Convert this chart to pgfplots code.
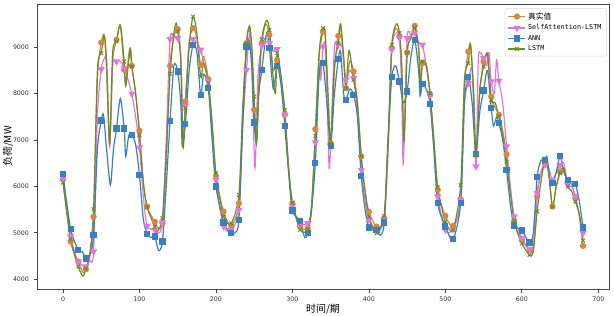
\documentclass[border=0pt]{standalone}
\usepackage{fontspec}
\setmainfont{DejaVu Sans}
\newfontfamily\cjk{Noto Sans CJK SC}
\newfontfamily\mono{DejaVu Sans Mono}
\usepackage{pgfplots}
\usepackage{pgfplotstable}
\pgfplotsset{compat=1.18}
\definecolor{ctrue}{HTML}{D4873F}
\definecolor{csa}{HTML}{E276E0}
\definecolor{cann}{HTML}{3A7FBF}
\definecolor{clstm}{HTML}{6B8E23}
\definecolor{axgray}{HTML}{444444}

\pgfplotstableread{
x y
0 6155
10 4812
20 4380
26 4150
30 4215
35 4500
40 5350
45 8300
50 9100
54 9250
57 8500
61 6880
65 8700
70 9158
75 9450
80 8511
82 8250
87 8950
90 8598
95 8000
100 7197
105 6100
110 5566
120 5236
125 5100
130 5207
135 6500
140 8598
145 9200
150 9388
154 8800
157 6950
160 7829
165 9100
170 9409
175 9200
180 8619
184 8800
190 8310
195 7300
200 6227
210 5458
220 5149
230 5638
235 7500
240 9086
243 9400
247 8900
250 7649
253 6950
256 8200
260 9086
265 9500
270 9266
275 8500
280 8727
285 8300
290 7542
295 6400
300 5638
310 5135
320 5099
325 5500
330 7233
335 8800
340 9338
343 9300
347 7800
350 6931
355 8500
360 9244
363 9450
367 8700
370 8116
375 8700
380 8476
385 7800
390 6644
395 5900
400 5458
410 5135
420 5315
425 6800
430 8979
435 9400
440 9230
443 8500
446 7000
450 8885
455 9200
460 9460
465 9000
468 8200
470 8655
475 8650
480 7973
485 7000
490 5925
500 5365
510 5149
520 5724
525 8200
530 8907
533 9050
537 8000
540 6680
545 8000
550 8690
555 8800
560 7937
565 7700
570 7542
575 7200
580 6694
590 5257
600 4848
610 4632
615 4650
620 5782
625 6300
630 6500
635 6300
640 5566
645 6000
650 6320
655 6400
660 6105
665 6050
670 5746
675 5400
680 4718
}\truetab

\pgfplotstableread{
x y
0 6140
10 4920
20 4380
30 4273
35 4400
40 4596
45 7500
50 8526
54 8750
57 8700
61 6860
65 8600
70 8690
75 8700
80 8547
85 8300
90 7994
95 7500
100 6838
105 5800
110 5149
120 5063
125 5000
130 5221
135 7000
140 9172
145 9200
150 9194
154 8800
157 7000
160 7735
165 9100
170 9172
175 9100
180 8943
185 8600
190 8260
195 7200
200 6140
210 5135
220 5063
230 5494
235 7300
240 8511
244 9300
247 8600
251 6392
255 8400
260 9029
265 9200
270 9086
275 8900
280 8957
285 8300
290 7542
295 6400
300 5566
310 5207
320 5207
325 5500
330 6945
335 8600
337 8296
340 9014
343 9000
346 7500
348 6392
350 6860
355 9000
360 9050
365 9000
370 8296
375 8500
380 8332
385 7600
390 6356
395 5700
400 5279
410 5063
420 5279
425 6700
430 8943
435 9300
440 9194
443 8000
445 6500
450 9194
455 9250
460 9302
465 9100
470 9050
475 8600
480 7973
485 6800
490 5781
500 5063
510 5078
520 5710
525 7800
530 8224
535 8500
540 6428
543 8700
546 8871
550 8763
554 8600
557 8885
560 8260
564 8000
567 8727
570 8275
575 7800
580 6860
585 6000
590 5350
600 4884
610 4646
615 4700
620 5853
625 6300
630 6464
635 6400
640 6140
645 6300
650 6464
655 6500
660 6033
665 6000
670 5796
675 5400
680 4991
}\satab

\pgfplotstableread{
x y
0 6263
10 5085
20 4632
25 4600
30 4445
35 4500
40 4948
45 6800
50 7420
53 7540
57 6800
62 6033
66 6800
70 7247
75 7894
80 7247
82 6644
86 7100
90 7110
95 6900
100 6249
105 5300
110 4977
115 4900
120 4920
125 4618
130 4812
135 6000
140 7412
145 8600
150 8476
154 7800
156 6860
160 7348
165 8500
170 9043
175 8900
180 7966
184 8420
190 8116
195 7000
200 5997
210 5221
220 4991
225 5000
230 5279
235 7300
240 9014
244 9100
247 8500
250 7376
253 6950
256 8000
260 8511
265 9200
268 9338
270 8979
275 8100
280 8598
285 8200
290 7305
295 6300
300 5480
310 5250
316 4900
320 4991
325 5500
330 6500
335 8400
340 8655
345 7800
350 6874
355 8000
360 8741
363 8900
367 8000
370 7865
375 8100
380 7973
385 7500
390 6227
395 5500
400 5114
410 5063
415 4950
420 5221
425 7000
430 8353
435 8600
440 8261
445 7800
450 8044
455 8800
460 9158
465 8500
467 7950
470 8203
475 8100
480 7779
485 6800
490 5638
500 5135
510 4862
520 5638
525 7800
530 8353
535 7800
540 6701
545 7600
550 8066
555 8500
560 7685
563 7300
567 7500
570 7362
575 7000
580 6356
585 5600
590 5157
600 5049
610 4790
615 5000
620 6198
625 6560
630 6572
633 6629
637 6100
640 6069
645 6300
650 6658
655 6300
660 6140
665 6100
670 6047
675 5700
680 5114
}\anntab

\pgfplotstableread{
x y
0 6083
10 4862
20 4273
26 4070
30 4230
35 4550
40 5508
45 8500
50 8871
54 9251
57 8700
61 6930
65 8900
70 9122
75 9481
80 8690
82 8150
88 8980
90 8583
95 8000
100 7110
105 6100
110 5551
120 5135
123 5027
130 5315
135 6700
140 8425
145 9300
148 9517
150 9338
154 8700
157 6850
160 7685
165 9000
170 9661
175 9300
180 8368
184 8650
190 8224
195 7400
200 6285
210 5350
220 5207
230 5817
235 7700
240 9086
244 9460
247 9000
250 7937
253 6930
256 8000
260 9172
266 9575
270 9374
275 8300
278 8009
280 8871
285 8400
290 7649
295 6400
300 5652
310 5063
320 5063
325 5600
330 7089
335 8900
340 9410
343 9200
347 7800
350 6931
355 8600
360 9086
363 9503
367 8800
370 8116
374 8930
380 8296
385 7800
390 6659
395 5900
400 5350
410 4991
420 5365
425 7000
430 9050
436 9503
440 9302
443 8600
446 6967
450 8871
455 9200
460 9410
465 9000
467 8116
470 8691
475 8600
480 8009
485 7000
490 5983
500 5243
510 5063
520 6026
525 8300
530 8655
533 9050
537 8000
540 6680
545 8100
550 8583
555 8871
560 7865
565 7800
570 7506
575 7100
580 6536
590 5264
600 4776
610 4524
615 4600
620 5458
625 6100
630 6536
635 6300
640 5566
645 6000
650 6285
655 6400
660 5997
665 5900
670 5674
675 5400
680 4833
}\lstmtab

\begin{document}
\begin{tikzpicture}
\path[use as bounding box] (-37bp,-27bp) rectangle (577bp,289bp);
\begin{axis}[
  at={(0,0)}, anchor=south west,
  scale only axis, width=572bp, height=285bp,
  xmin=-34, xmax=714, ymin=3790, ymax=9930,
  xtick={0,100,...,700}, ytick={4000,5000,...,9000},
  axis line style={axgray, line width=0.7bp},
  tick align=outside, major tick length=3.5bp,
  tick style={axgray, line width=0.7bp},
  xtick pos=bottom, ytick pos=left,
  /pgf/number format/assume math mode=true,
  /pgf/number format/set thousands separator={},
  tick label style={font=\fontsize{6.3}{7}\selectfont, text=black!80},
  xticklabel style={yshift=-1bp},
  yticklabel style={xshift=-1bp},
  xlabel={\cjk 时间/期},
  ylabel={\cjk 负荷/MW},
  label style={font=\fontsize{7.8}{8}\selectfont},
  every axis x label/.style={at={(axis description cs:0.5,-0.07)}, anchor=center},
  every axis y label/.style={at={(axis description cs:-0.0507,0.5)}, rotate=90, anchor=center},
  legend style={at={(axis description cs:0.996,0.985)}, anchor=north east,
    draw=black!15, rounded corners=2bp, fill=white, line width=0.5bp,
    inner xsep=3bp, inner ysep=2bp, row sep=0bp},
  legend cell align=left,
  every axis plot/.append style={line width=1.2bp},
]
\addplot[ctrue, smooth, tension=0.45, forget plot] table {\truetab};
\addplot[ctrue, only marks, mark=*, mark size=2.5bp, forget plot,
  y filter/.expression={mod(x,10)==0 ? y : nan}] table {\truetab};
\addplot[csa, smooth, tension=0.45, forget plot] table {\satab};
\addplot[csa, only marks, mark=triangle*, mark size=3bp, mark options={rotate=180}, forget plot,
  y filter/.expression={mod(x,10)==0 ? y : nan}] table {\satab};
\addplot[cann, smooth, tension=0.45, forget plot] table {\anntab};
\addplot[cann, only marks, mark=square*, mark size=2.5bp, forget plot,
  y filter/.expression={mod(x,10)==0 ? y : nan}] table {\anntab};
\addplot[clstm, smooth, tension=0.45, forget plot] table {\lstmtab};
\addplot[clstm, only marks, mark=x, mark size=2.6bp, line width=1bp, forget plot,
  y filter/.expression={mod(x,10)==0 ? y : nan}] table {\lstmtab};

\addlegendimage{ctrue, mark=*, mark size=2.5bp, line width=1.2bp}
\addlegendentry{\fontsize{7.8}{8}\selectfont\cjk 真实值}
\addlegendimage{csa, mark=triangle*, mark size=3bp, mark options={rotate=180}, line width=1.2bp}
\addlegendentry{\fontsize{6.8}{8}\selectfont\mono SelfAttention-LSTM}
\addlegendimage{cann, mark=square*, mark size=2.5bp, line width=1.2bp}
\addlegendentry{\fontsize{6.8}{8}\selectfont\mono ANN}
\addlegendimage{clstm, mark=x, mark size=2.6bp, line width=1.2bp}
\addlegendentry{\fontsize{6.8}{8}\selectfont\mono LSTM}
\end{axis}
\end{tikzpicture}
\end{document}
